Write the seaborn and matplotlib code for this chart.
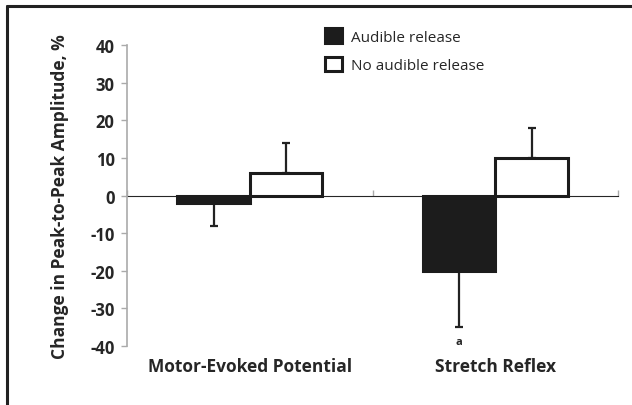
import pandas as pd
import seaborn as sns
import matplotlib.pyplot as plt
from matplotlib.lines import Line2D

categories = ["Motor-Evoked Potential", "Stretch Reflex"]
groups = ["Audible release", "No audible release"]
audible = [-2, -20]
audible_err = [6, 15]
no_audible = [6, 10]
no_audible_err = [8, 8]

df = pd.DataFrame({
    "category": categories * 2,
    "group": [groups[0]] * 2 + [groups[1]] * 2,
    "value": audible + no_audible,
    "err": audible_err + no_audible_err,
})

sns.set_style("white")
plt.rcParams['font.family'] = ['Open Sans', 'DejaVu Sans']
plt.rcParams['axes.unicode_minus'] = False

fig = plt.figure(figsize=(6.32, 4.06), dpi=100)
ax = fig.add_axes([0.201, 0.1453, 0.777, 0.7414])

sns.barplot(data=df, x="category", y="value", hue="group", order=categories,
            hue_order=groups, palette=["#1c1c1c", "white"], width=0.59,
            errorbar=None, ax=ax, zorder=3, legend=False)

# bar styling and one-sided error bars
for container, errs in zip(ax.containers, [audible_err, no_audible_err]):
    for bar, e in zip(container, errs):
        bar.set_edgecolor("#1c1c1c")
        bar.set_linewidth(2.2)
        x = bar.get_x() + bar.get_width() / 2
        h = bar.get_height()
        if h < 0:
            yerr = [[e], [0]]
        else:
            yerr = [[0], [e]]
        ax.errorbar(x, h, yerr=yerr, fmt="none", ecolor="#222222",
                    elinewidth=1.6, capsize=3, capthick=1.6, zorder=2,
                    clip_on=False)

# significance mark
sr_bar = ax.containers[0][1]
ax.text(sr_bar.get_x() + sr_bar.get_width() / 2,
        audible[1] - audible_err[1] - 2.3, "a", ha="center", va="top",
        fontsize=8, fontweight="bold")

ax.set_ylim(-40, 40)
ax.set_xlim(-0.5, 1.5)
ax.set_yticks(range(-40, 41, 10))
for lab in ax.get_yticklabels():
    lab.set_fontweight("bold")
ax.tick_params(axis="y", left=True, length=4, color="#aaaaaa", width=1,
               pad=5, labelsize=12)
ax.tick_params(axis="x", bottom=False, length=0, pad=8, labelsize=12.5)
for lab in ax.get_xticklabels():
    lab.set_fontweight("bold")

for side in ["top", "right", "bottom"]:
    ax.spines[side].set_visible(False)
ax.spines["left"].set_color("#aaaaaa")
ax.spines["left"].set_linewidth(1.2)

# zero line with category boundary ticks
sec = ax.secondary_xaxis(0.5)
sec.set_xticks([-0.5, 0.5, 1.5])
sec.set_xticklabels([])
sec.tick_params(axis="x", length=4, color="#aaaaaa", width=1)
sec.spines["bottom"].set_color("#aaaaaa")
sec.spines["bottom"].set_linewidth(1.5)

ax.set_xlabel("")
ax.set_ylabel("Change in Peak-to-Peak Amplitude, %", fontsize=12.5,
              fontweight="bold", labelpad=15)

handles = [ax.containers[0][0], ax.containers[1][0]]
leg = ax.legend(handles=handles, labels=groups, loc="upper left",
                bbox_to_anchor=(325 / 632, 1 - 29 / 406),
                bbox_transform=fig.transFigure, frameon=False, fontsize=11,
                handlelength=1.1, handleheight=1.1, labelspacing=0.8,
                handletextpad=0.6, borderpad=0, borderaxespad=0)

# figure frame lines (top and left)
fig.add_artist(Line2D([7 / 632, 7 / 632], [0, 1 - 7 / 406],
                      color="#222222", lw=2.2))
fig.add_artist(Line2D([7 / 632, 1], [1 - 7 / 406, 1 - 7 / 406],
                      color="#222222", lw=2.2))

fig.savefig("out.png", dpi=100)
